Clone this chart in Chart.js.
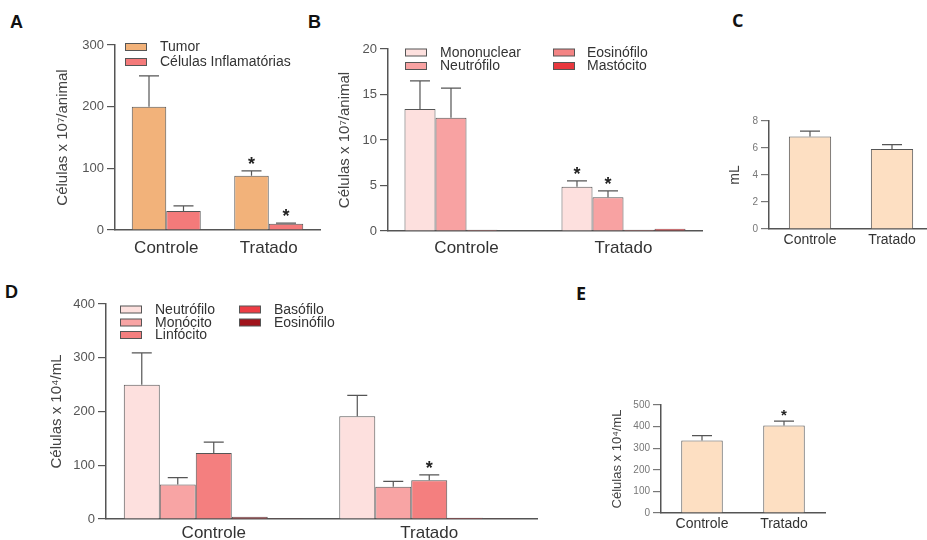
<!DOCTYPE html>
<html>
<head>
<meta charset="utf-8">
<script src="https://cdn.jsdelivr.net/npm/chart.js@4"></script>
<style>
  body { margin: 0; background: #fff; width: 927px; height: 540px; overflow: hidden; position: relative; font-family: "Liberation Sans", Arial, sans-serif; }
  canvas { position: absolute; }
  .tag { position: absolute; font-weight: bold; font-size: 18px; line-height: 18px; color: #111; }
  .tag2 { font-family: "Open Sans", sans-serif; }
</style>
</head>
<body>
<div class="tag" style="left:10px;top:13px">A</div>
<div class="tag" style="left:308px;top:13px">B</div>
<div class="tag tag2" style="left:732px;top:11px">C</div>
<div class="tag" style="left:5px;top:283px">D</div>
<div class="tag tag2" style="left:576px;top:284px">E</div>

<canvas id="chA" width="325" height="240" style="left:0;top:30px"></canvas>
<canvas id="chB" width="380" height="240" style="left:330px;top:30px"></canvas>
<canvas id="chC" width="211" height="150" style="left:722px;top:100px"></canvas>
<canvas id="chD" width="545" height="250" style="left:0;top:290px"></canvas>
<canvas id="chE" width="240" height="150" style="left:600px;top:390px"></canvas>

<script>
const categories = ['Controle', 'Tratado'];

// A: células x 10^7 / animal
const tumor = [200, 88];
const tumorErr = [50, 8];
const inflam = [31, 10];
const inflamErr = [8, 1];

// B: células inflamatórias x 10^7 / animal
const mononuclearB = [13.4, 4.85];
const mononuclearBErr = [3.1, 0.65];
const neutrofiloB = [12.45, 3.7];
const neutrofiloBErr = [3.25, 0.7];
const eosinofiloB = [0.15, 0.15];
const mastocitoB = [0.05, 0.25];

// C: volume (mL)
const volume = [6.85, 5.92];
const volumeErr = [0.4, 0.33];

// D: células x 10^4 / mL
const neutrofiloD = [250, 191];
const neutrofiloDErr = [59, 39];
const monocitoD = [64, 60];
const monocitoDErr = [13, 10];
const linfocitoD = [123, 72];
const linfocitoDErr = [20, 10];
const basofiloD = [4, 2.5];
const eosinofiloD = [1.5, 1.5];

// E: células x 10^4 / mL
const totalE = [336, 405];
const totalEErr = [22, 20];

// significance marks (Tratado vs Controle)
const starTratado = [false, true];

const family = '"Liberation Sans", Arial, sans-serif';

// error bars, asterisks and the hand-placed legend
const extras = {
  id: 'extras',
  afterDatasetsDraw(chart, args, opts) {
    const ctx = chart.ctx;
    const ys = chart.scales.y;
    chart.data.datasets.forEach((ds, i) => {
      chart.getDatasetMeta(i).data.forEach((bar, j) => {
        let top = bar.y;
        if (ds.err && ds.err[j]) {
          const yE = ys.getPixelForValue(ds.data[j] + ds.err[j]);
          ctx.save();
          ctx.strokeStyle = '#555';
          ctx.lineWidth = 1.2;
          ctx.beginPath();
          ctx.moveTo(bar.x, bar.y);
          ctx.lineTo(bar.x, yE);
          ctx.moveTo(bar.x - opts.cap, yE);
          ctx.lineTo(bar.x + opts.cap, yE);
          ctx.stroke();
          ctx.restore();
          top = yE;
        }
        if (ds.star && ds.star[j]) {
          ctx.save();
          ctx.fillStyle = '#222';
          ctx.font = 'bold ' + opts.starSize + 'px ' + family;
          ctx.textAlign = 'center';
          ctx.textBaseline = 'alphabetic';
          ctx.fillText('*', bar.x, top - 1);
          ctx.restore();
        }
      });
    });
  },
  afterDraw(chart, args, opts) {
    const ctx = chart.ctx;
    (opts.legend || []).forEach(it => {
      const ds = chart.data.datasets[it.i];
      ctx.save();
      ctx.fillStyle = ds.backgroundColor;
      ctx.strokeStyle = '#555';
      ctx.lineWidth = 1;
      ctx.fillRect(it.x, it.y - 3.5, 21, 7);
      ctx.strokeRect(it.x + 0.5, it.y - 3.5, 21, 7);
      ctx.fillStyle = '#333';
      ctx.font = '14px ' + family;
      ctx.textBaseline = 'middle';
      ctx.fillText(ds.label, it.tx, it.y + 0.5);
      ctx.restore();
    });
  }
};

function bars(id, o) {
  new Chart(document.getElementById(id), {
    type: 'bar',
    data: {
      labels: categories,
      datasets: o.sets.map(s => ({
        label: s.label,
        data: s.data,
        err: s.err,
        star: s.star,
        backgroundColor: s.color,
        borderColor: '#555',
        borderWidth: 1,
        categoryPercentage: o.catPct,
        barPercentage: 1
      }))
    },
    options: {
      responsive: false,
      animation: false,
      layout: { padding: o.pad },
      plugins: {
        legend: { display: false },
        tooltip: { enabled: false },
        extras: { legend: o.legend, cap: o.cap, starSize: o.starSize }
      },
      scales: {
        x: {
          grid: { display: false, drawTicks: false },
          border: { display: true, color: '#555', width: 1.5 },
          ticks: { color: '#333', font: { size: o.catSize, family }, padding: o.catPad },
          afterFit: s => { s.height = o.xh; }
        },
        y: {
          min: 0,
          max: o.max,
          ticks: { stepSize: o.step, color: o.tickColor, font: { size: o.tickSize, family }, padding: 3 },
          grid: { drawOnChartArea: false, drawTicks: true, tickLength: 8, color: o.tickColor, lineWidth: 1.2 },
          border: { display: true, color: '#555', width: 1.5 },
          title: { display: true, text: o.title, color: '#444', font: { size: o.titleSize, family }, padding: { top: o.titlePad, bottom: 0 } },
          afterFit: s => { s.width = o.yw; }
        }
      }
    },
    plugins: [extras]
  });
}

bars('chA', {
  sets: [
    { label: 'Tumor', data: tumor, err: tumorErr, star: starTratado, color: '#f2b27a' },
    { label: 'Células Inflamatórias', data: inflam, err: inflamErr, star: starTratado, color: '#f47a7a' }
  ],
  max: 300, step: 100, catPct: 0.673,
  pad: { left: 44, top: 15, right: 5, bottom: 0 }, yw: 71, xh: 40,
  title: 'Células x 10⁷/animal', titleSize: 15, titlePad: 10,
  tickSize: 13, tickColor: '#555', catSize: 17, catPad: 8, cap: 10, starSize: 18,
  legend: [
    { i: 0, x: 125, tx: 160, y: 17 },
    { i: 1, x: 125, tx: 160, y: 32 }
  ]
});

bars('chB', {
  sets: [
    { label: 'Mononuclear', data: mononuclearB, err: mononuclearBErr, star: starTratado, color: '#fde0de' },
    { label: 'Neutrófilo', data: neutrofiloB, err: neutrofiloBErr, star: starTratado, color: '#f8a2a2' },
    { label: 'Eosinófilo', data: eosinofiloB, color: '#f38484' },
    { label: 'Mastócito', data: mastocitoB, color: '#e8383e' }
  ],
  max: 20, step: 5, catPct: 0.79,
  pad: { left: 0, top: 19, right: 8, bottom: 0 }, yw: 58, xh: 39,
  title: 'Células x 10⁷/animal', titleSize: 15, titlePad: 6,
  tickSize: 13, tickColor: '#555', catSize: 17, catPad: 7, cap: 10, starSize: 18,
  legend: [
    { i: 0, x: 75, tx: 110, y: 22.5 },
    { i: 2, x: 223, tx: 257, y: 22.5 },
    { i: 1, x: 75, tx: 110, y: 36 },
    { i: 3, x: 223, tx: 257, y: 36 }
  ]
});

bars('chC', {
  sets: [
    { label: 'Volume', data: volume, err: volumeErr, color: '#fddfc2' }
  ],
  max: 8, step: 2, catPct: 0.516,
  pad: { left: 0, top: 21, right: 0, bottom: 0 }, yw: 47, xh: 21,
  title: 'mL', titleSize: 14, titlePad: 5,
  tickSize: 10, tickColor: '#777', catSize: 14, catPad: 3, cap: 10, starSize: 15
});

bars('chD', {
  sets: [
    { label: 'Neutrófilo', data: neutrofiloD, err: neutrofiloDErr, color: '#fde0de' },
    { label: 'Monócito', data: monocitoD, err: monocitoDErr, color: '#f8a4a4' },
    { label: 'Linfócito', data: linfocitoD, err: linfocitoDErr, star: starTratado, color: '#f47f7f' },
    { label: 'Basófilo', data: basofiloD, color: '#ec3c44' },
    { label: 'Eosinófilo', data: eosinofiloD, color: '#a0141c' }
  ],
  max: 400, step: 100, catPct: 0.835,
  pad: { left: 40, top: 14, right: 8, bottom: 0 }, yw: 66, xh: 21,
  title: 'Células x 10⁴/mL', titleSize: 15, titlePad: 8,
  tickSize: 13, tickColor: '#555', catSize: 17, catPad: 4, cap: 10, starSize: 18,
  legend: [
    { i: 0, x: 120, tx: 155, y: 19.5 },
    { i: 1, x: 120, tx: 155, y: 32.5 },
    { i: 2, x: 120, tx: 155, y: 45 },
    { i: 3, x: 239, tx: 274, y: 19.5 },
    { i: 4, x: 239, tx: 274, y: 32.5 }
  ]
});

bars('chE', {
  sets: [
    { label: 'Total', data: totalE, err: totalEErr, star: starTratado, color: '#fddfc2' }
  ],
  max: 500, step: 100, catPct: 0.506,
  pad: { left: 4, top: 15, right: 15, bottom: 0 }, yw: 57, xh: 27,
  title: 'Células x 10⁴/mL', titleSize: 13, titlePad: 6,
  tickSize: 10, tickColor: '#777', catSize: 14, catPad: 3, cap: 10, starSize: 15
});
</script>
</body>
</html>
